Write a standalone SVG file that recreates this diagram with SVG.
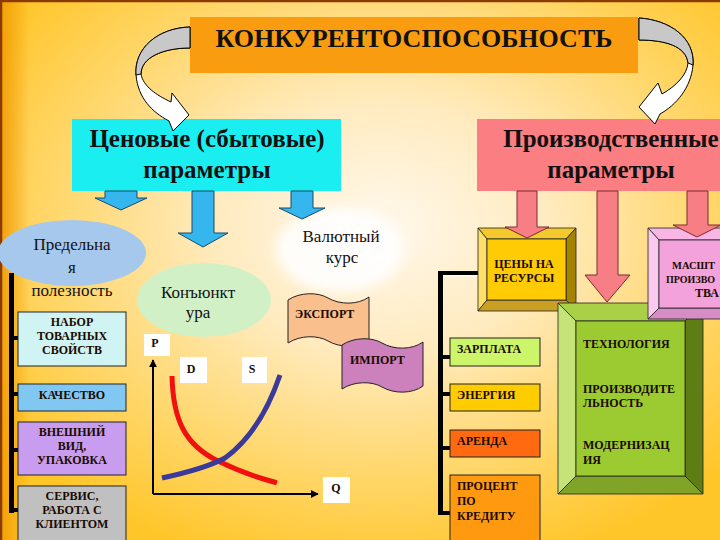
<svg xmlns="http://www.w3.org/2000/svg" width="720" height="540" viewBox="0 0 720 540">
<defs>
<radialGradient id="bg" cx="0.53" cy="0.42" r="0.65">
<stop offset="0" stop-color="#FFF8EC"/>
<stop offset="0.35" stop-color="#FFEBC0"/>
<stop offset="0.7" stop-color="#FFD76C"/>
<stop offset="1" stop-color="#FFC62A"/>
</radialGradient>
<linearGradient id="leftedge" x1="0" y1="0" x2="1" y2="0">
<stop offset="0" stop-color="#F09A00" stop-opacity="0.9"/>
<stop offset="1" stop-color="#F09A00" stop-opacity="0"/>
</linearGradient>
<filter id="blur" x="-30%" y="-30%" width="160%" height="160%"><feGaussianBlur stdDeviation="6"/></filter>
<marker id="ah" viewBox="0 0 10 10" refX="9" refY="5" markerWidth="4" markerHeight="4" orient="auto"><path d="M0,0 L10,5 L0,10 Z" fill="#000"/></marker>
</defs>
<style>
.big{font-family:"Liberation Serif","Times New Roman",serif;font-weight:bold;font-size:25px;fill:#111;text-anchor:middle}
.reg{font-family:"Liberation Serif","Times New Roman",serif;font-size:17px;fill:#111;text-anchor:middle}
.sm{font-family:"Liberation Serif","Times New Roman",serif;font-weight:bold;font-size:12px;fill:#1a0a00}
.c{text-anchor:middle}
.box{stroke:#222;stroke-width:1}
.blue{fill:#36B6EE;stroke:#1a4a66;stroke-width:1}
.pink{fill:#F87E86;stroke:#7a2a30;stroke-width:1}
.bar{fill:#000}
.curv{fill:#FFFFFF;stroke:#000;stroke-width:1}
.curvg{fill:#C8C8C8;stroke:#000;stroke-width:1}
.bev{stroke:#222;stroke-width:0.8}
</style>
<rect x="0" y="0" width="720" height="540" fill="url(#bg)"/>
<rect x="0" y="0" width="30" height="540" fill="url(#leftedge)"/>
<path d="M1,540 L1,1 L720,1" fill="none" stroke="#8B3A00" stroke-width="2.5"/>

<g id="title">
<rect x="190" y="17" width="448" height="56" fill="#FA9C10"/>
<text class="big" x="414" y="47" style="font-size:26px">КОНКУРЕНТОСПОСОБНОСТЬ</text>
</g>

<g id="price">
<rect x="72" y="119" width="269" height="72" fill="#1BEEF0"/>
<text class="big" x="207" y="147">Ценовые (сбытовые)</text>
<text class="big" x="207" y="178">параметры</text>
</g>

<g id="prod">
<rect x="477" y="119" width="260" height="72" fill="#FA7E82"/>
<text class="big" x="611" y="147">Производственные</text>
<text class="big" x="611" y="178">параметры</text>
</g>

<g id="utility">
<ellipse cx="72" cy="253" rx="74" ry="33" fill="#A6C8EC"/>
<text class="reg" x="72" y="250">Предельна</text>
<text class="reg" x="72" y="273">я</text>
<text class="reg" x="72" y="296">полезность</text>
</g>

<g id="conjuncture">
<ellipse cx="204" cy="300" rx="67" ry="37" fill="#D2F0C6"/>
<text class="reg" x="198" y="298">Конъюнкт</text>
<text class="reg" x="198" y="318">ура</text>
</g>

<g id="currency">
<ellipse cx="340" cy="250" rx="64" ry="42" fill="#FFFFFF" opacity="0.9" filter="url(#blur)"/>
<text class="reg" x="341" y="242">Валютный</text>
<text class="reg" x="342" y="263">курс</text>
</g>

<g id="connectors">
<path class="curv" d="M190,27 C158,28 134,48 136,75 C138,98 152,112 169,121 L173,131 L189,115 L172,93 L171,102 C156,95 143,86 141,74 C141,58 162,48 190,48 Z"/>
<path class="curvg" d="M190,27 C158,28 134,48 136,75 L141,74 C141,58 162,48 190,48 Z"/>
<path class="curv" d="M639,18 C670,20 695,38 693,65 C691,88 676,105 660,114 L655,124 L639,107 L658,83 L662,94 C676,86 687,75 688,63 C686,46 665,40 639,40 Z"/>
<path class="curvg" d="M639,18 C670,20 695,38 693,65 L688,63 C686,46 665,40 639,40 Z"/>
<path class="blue" d="M105,191 L137,191 L137,198 L147,198 L121,210 L95,198 L105,198 Z"/>
<path class="blue" d="M192,191 L214,191 L214,233 L228,233 L203,247 L178,233 L192,233 Z"/>
<path class="blue" d="M291,191 L313,191 L313,208 L325,208 L302,219 L279,208 L291,208 Z"/>
<rect class="bar" x="9" y="273" width="5" height="240"/>
<rect class="bar" x="9" y="336" width="9" height="4"/>
<rect class="bar" x="9" y="392" width="9" height="4"/>
<rect class="bar" x="9" y="448" width="9" height="4"/>
<rect class="bar" x="9" y="508" width="9" height="4"/>
<rect class="bar" x="438" y="271" width="40" height="4"/>
<line x1="442" y1="276" x2="478" y2="276" stroke="#fff" stroke-width="1"/>
<rect class="bar" x="438" y="271" width="5" height="244"/>
<rect class="bar" x="438" y="355" width="12" height="4"/>
<rect class="bar" x="438" y="392" width="12" height="4"/>
<rect class="bar" x="438" y="446" width="12" height="4"/>
<rect class="bar" x="438" y="511" width="12" height="4"/>
</g>

<g id="nabor">
<rect class="box" x="18" y="312" width="108" height="54" fill="#D0F4F4"/>
<text class="sm c" x="72" y="326">НАБОР</text>
<text class="sm c" x="72" y="340">ТОВАРНЫХ</text>
<text class="sm c" x="72" y="354">СВОЙСТВ</text>
</g>
<g id="kachestvo">
<rect class="box" x="18" y="384" width="108" height="27" fill="#80C8F2"/>
<text class="sm c" x="72" y="399">КАЧЕСТВО</text>
</g>
<g id="vid">
<rect class="box" x="18" y="422" width="108" height="53" fill="#C89CEE"/>
<text class="sm c" x="72" y="436">ВНЕШНИЙ</text>
<text class="sm c" x="72" y="450">ВИД,</text>
<text class="sm c" x="72" y="464">УПАКОВКА</text>
</g>
<g id="servis">
<rect class="box" x="18" y="486" width="108" height="56" fill="#C0C0C0"/>
<text class="sm c" x="72" y="500">СЕРВИС,</text>
<text class="sm c" x="72" y="514">РАБОТА С</text>
<text class="sm c" x="72" y="528">КЛИЕНТОМ</text>
</g>

<g id="export">
<path class="box" d="M288,300 C300,292 318,292 328,298 C340,305 358,305 369,297 L369,340 C358,348 340,348 328,341 C318,335 300,335 288,343 Z" fill="#F9C08E"/>
<text class="sm" x="295" y="318">ЭКСПОРТ</text>
</g>
<g id="import">
<path class="box" d="M342,345 C354,337 372,337 382,343 C394,350 412,350 423,342 L423,386 C412,394 394,394 382,387 C372,381 354,381 342,389 Z" fill="#CC80BC"/>
<text class="sm" x="350" y="364">ИМПОРТ</text>
</g>

<g id="chart">
<line x1="153" y1="494" x2="153" y2="360" stroke="#000" stroke-width="2" marker-end="url(#ah)"/>
<line x1="153" y1="494" x2="318" y2="494" stroke="#000" stroke-width="2" marker-end="url(#ah)"/>
<rect x="144" y="334" width="26" height="22" fill="#fff"/>
<text class="sm c" x="155" y="347">P</text>
<rect x="180" y="357" width="27" height="26" fill="#fff"/>
<text class="sm c" x="191" y="373">D</text>
<rect x="242" y="357" width="25" height="26" fill="#fff"/>
<text class="sm c" x="252" y="373">S</text>
<rect x="323" y="477" width="27" height="26" fill="#fff"/>
<text class="sm c" x="336" y="492">Q</text>
<path d="M172,376 C173,420 185,445 218,461 S262,478 277,483" fill="none" stroke="#F01010" stroke-width="5"/>
<path d="M162,478 C190,472 210,466 225,458 C250,440 268,410 280,375" fill="none" stroke="#3A3A9A" stroke-width="5"/>
</g>

<g id="ceny">
<polygon class="bev" points="478,228 576,228 566,239 487,239" fill="#F3C92E"/>
<polygon class="bev" points="478,228 487,239 487,300 478,311" fill="#FFE06A"/>
<polygon class="bev" points="576,228 576,311 566,300 566,239" fill="#A58200"/>
<polygon class="bev" points="478,311 576,311 566,300 487,300" fill="#C9A024"/>
<rect class="bev" x="487" y="239" width="79" height="61" fill="#FFCB05"/>
<text class="sm c" x="524" y="268">ЦЕНЫ НА</text>
<text class="sm c" x="524" y="282">РЕСУРСЫ</text>
</g>

<g id="tech">
<polygon class="bev" points="558,303 703,303 685,321 576,321" fill="#A9D046"/>
<polygon class="bev" points="558,303 576,321 576,476 558,494" fill="#C6E37A"/>
<polygon class="bev" points="703,303 703,494 685,476 685,321" fill="#5E7D14"/>
<polygon class="bev" points="558,494 703,494 685,476 576,476" fill="#7FA428"/>
<rect class="bev" x="576" y="321" width="109" height="155" fill="#9BCB30"/>
<text class="sm" x="583" y="348">ТЕХНОЛОГИЯ</text>
<text class="sm" x="583" y="393">ПРОИЗВОДИТЕ</text>
<text class="sm" x="583" y="407">ЛЬНОСТЬ</text>
<text class="sm" x="583" y="449">МОДЕРНИЗАЦ</text>
<text class="sm" x="583" y="464">ИЯ</text>
</g>

<g id="scale">
<polygon class="bev" points="648,228 740,228 729,240 659,240" fill="#F7B6E4"/>
<polygon class="bev" points="648,228 659,240 659,308 648,319" fill="#FBC8EE"/>
<polygon class="bev" points="648,319 740,319 729,308 659,308" fill="#D68CC4"/>
<rect class="bev" x="659" y="240" width="70" height="68" fill="#F3A2DC"/>
<text class="sm" x="672" y="269" style="font-size:10.5px">МАСШТ</text>
<text class="sm" x="666" y="283" style="font-size:10px">ПРОИЗВО</text>
<text class="sm" x="695" y="297">ТВА</text>
</g>

<g id="prod-arrows">
<path class="pink" d="M517,191 L537,191 L537,227 L549,227 L527,238 L505,227 L517,227 Z"/>
<path class="pink" d="M597,191 L618,191 L618,275 L630,275 L607,302 L585,275 L597,275 Z"/>
<path class="pink" d="M687,191 L708,191 L708,225 L721,225 L697,237 L673,225 L687,225 Z"/>
</g>

<g id="rates">
<rect class="box" x="450" y="338" width="90" height="28" fill="#CCF56A"/>
<text class="sm" x="457" y="353">ЗАРПЛАТА</text>
<rect class="box" x="450" y="384" width="90" height="27" fill="#FFCC00"/>
<text class="sm" x="457" y="399">ЭНЕРГИЯ</text>
<rect class="box" x="450" y="430" width="90" height="27" fill="#FF6A10"/>
<text class="sm" x="457" y="445">АРЕНДА</text>
<rect class="box" x="450" y="475" width="90" height="67" fill="#FF9A10"/>
<text class="sm" x="457" y="490">ПРОЦЕНТ</text>
<text class="sm" x="457" y="505">ПО</text>
<text class="sm" x="457" y="520">КРЕДИТУ</text>
</g>
</svg>
